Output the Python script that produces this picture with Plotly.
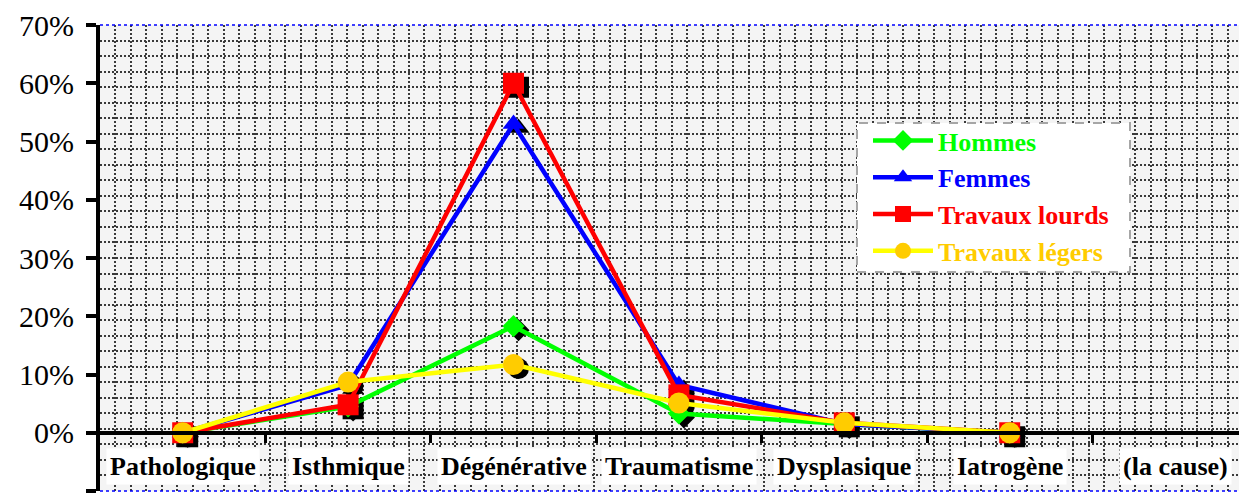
import plotly.graph_objects as go

# ---------------- data ----------------
categories = ["Pathologique", "Isthmique", "Dégénérative", "Traumatisme",
              "Dysplasique", "Iatrogène", "(la cause)"]
hommes = [0, 4.5, 18.3, 3.3, 1.5, 0]
femmes = [0, 8.2, 53.0, 8.2, 1.5, 0]
travaux_lourds = [0, 4.8, 60.0, 6.5, 1.7, 0]
travaux_legers = [0, 8.7, 11.7, 5.1, 1.7, 0]
series_names = ["Hommes", "Femmes", "Travaux lourds", "Travaux légers"]
y_tick_values = [-10, 0, 10, 20, 30, 40, 50, 60, 70]
y_tick_labels = ["-10%", "0%", "10%", "20%", "30%", "40%", "50%", "60%", "70%"]

# ---------------- geometry / styles ----------------
OFF = 8                      # page body margin offset
PAGE_W, PAGE_H = 1247, 501
W, H = PAGE_W - OFF, PAGE_H - OFF
PL, PR, PT, PB = 100, 1247, 25, 491   # plot area in page pixels
ML, MT = PL - OFF, PT - OFF
MR = W - (PR - OFF)
MB = H - (PB - OFF)
plot_w = PR - PL
plot_h = PB - PT
cat_px = 165.4
x_range = [-0.5, -0.5 + plot_w / cat_px]
y_range = [-10, 70]
y_px_per_unit = plot_h / (y_range[1] - y_range[0])


def px_x(px):   # page x -> paper fraction
    return (px - PL) / plot_w


def px_y(py):   # page y -> paper fraction
    return (PB - py) / plot_h


shadow_dx = 5 / cat_px
shadow_dy = 4 / y_px_per_unit

styles = [
    dict(line="#00FF00", marker="#00FF00", symbol="diamond", size=17),
    dict(line="#0000FF", marker="#0000FF", symbol="triangle-up", size=19),
    dict(line="#FF0000", marker="#FF0000", symbol="square", size=21),
    dict(line="#FFFF00", marker="#FFCC00", symbol="circle", size=21),
]
legend_text_colors = ["#00FF00", "#0000FF", "#FF0000", "#FFCC00"]
all_series = [hommes, femmes, travaux_lourds, travaux_legers]

fig = go.Figure()

# shadows (black copies of markers, drawn on shifted axes)
for vals, st in zip(all_series, styles):
    xs = list(range(len(vals)))
    fig.add_trace(go.Scatter(
        x=xs, y=vals, mode="markers", xaxis="x", yaxis="y",
        marker=dict(symbol=st["symbol"], size=st["size"], color="black",
                    line=dict(width=0)),
        showlegend=False, hoverinfo="skip"))

# main series
for name, vals, st, tc in zip(series_names, all_series, styles, legend_text_colors):
    xs = list(range(len(vals)))
    fig.add_trace(go.Scatter(
        x=xs, y=vals, mode="lines+markers", xaxis="x2", yaxis="y2",
        name=f"<b><span style='color:{tc}'>{name}</span></b>",
        line=dict(color=st["line"], width=4.5),
        marker=dict(symbol=st["symbol"], size=st["size"], color=st["marker"],
                    line=dict(width=0))))

grid_color = "#3a3a3a"
grid_dash = "2px,2px"
serif = "Liberation Serif, Times New Roman, serif"

fig.update_layout(
    width=W, height=H,
    margin=dict(l=ML, r=MR, t=MT, b=MB, autoexpand=False),
    paper_bgcolor="white",
    plot_bgcolor="#f4f4f4",
    font=dict(family=serif, color="black"),
    xaxis=dict(visible=False, range=[x_range[0] - shadow_dx, x_range[1] - shadow_dx],
               fixedrange=True),
    yaxis=dict(visible=False, range=[y_range[0] + shadow_dy, y_range[1] + shadow_dy],
               fixedrange=True),
    xaxis2=dict(
        overlaying="x", anchor="free", position=0.125, range=x_range,
        showline=True, linecolor="black", linewidth=4,
        tickmode="array", tickvals=[i + 0.5 for i in range(len(categories) - 1)],
        ticks="outside", ticklen=8, tickwidth=3, tickcolor="black",
        showticklabels=False, showgrid=False, zeroline=False,
        minor=dict(tick0=x_range[0], dtick=15.45 / cat_px, showgrid=True,
                   gridcolor=grid_color, gridwidth=1.5, griddash=grid_dash,
                   ticks=""),
    ),
    yaxis2=dict(
        overlaying="y", anchor="x2", side="left", range=y_range,
        showline=True, linecolor="black", linewidth=4,
        tickmode="array", tickvals=y_tick_values, ticktext=y_tick_labels,
        ticks="outside", ticklen=10, tickwidth=4, tickcolor="black",
        tickfont=dict(family=serif, size=30, color="black"),
        ticklabelstandoff=6,
        showgrid=False, zeroline=False,
        minor=dict(tick0=y_range[0], dtick=8 / 3, showgrid=True,
                   gridcolor=grid_color, gridwidth=1.5, griddash=grid_dash,
                   ticks=""),
    ),
    legend=dict(
        x=px_x(868), y=px_y(117),
        xanchor="left", yanchor="top",
        bgcolor="rgba(0,0,0,0)", borderwidth=0,
        font=dict(family=serif, size=26),
        itemwidth=60,
    ),
    showlegend=True,
)

# legend box (dashed grey) and plot border (blue dotted top/bottom)
fig.add_shape(type="rect", xref="paper", yref="paper",
              x0=px_x(857), x1=px_x(1130), y0=px_y(272), y1=px_y(123),
              fillcolor="white", line=dict(color="#A6A6A6", width=2, dash="dash"),
              layer="above")
for yy in (0, 1):
    fig.add_shape(type="line", xref="paper", yref="paper", x0=0, x1=1, y0=yy, y1=yy,
                  line=dict(color="#0000FF", width=1.5, dash="dot"), layer="above")

# category labels with white boxes
for i, c in enumerate(categories):
    fig.add_annotation(x=i, y=-5.8, xref="x2", yref="y2", text=f"<b>{c}</b>",
                       showarrow=False, bgcolor="white", borderpad=3,
                       font=dict(family=serif, size=26, color="black"),
                       xanchor="center", yanchor="middle")

fig.write_html("out.html")
